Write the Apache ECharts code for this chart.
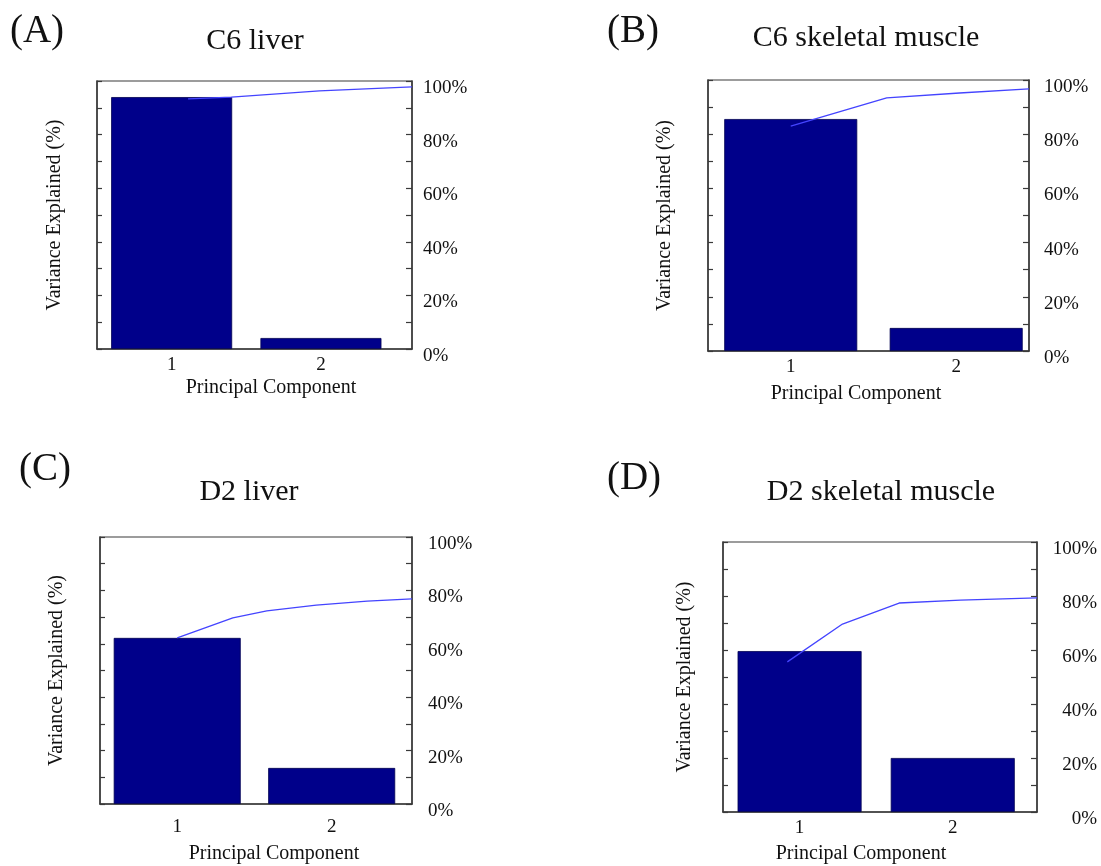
<!DOCTYPE html>
<html><head><meta charset="utf-8">
<script src="https://cdn.jsdelivr.net/npm/echarts@6/dist/echarts.min.js"></script>
<style>html,body{margin:0;padding:0;background:#fff}#c{width:1101px;height:866px}</style>
</head><body><div id="c"></div>
<script>
// ---- data ----
const components = [1, 2];
const panelLetters = ['(A)', '(B)', '(C)', '(D)'];
const panelTitles = ['C6 liver', 'C6 skeletal muscle', 'D2 liver', 'D2 skeletal muscle'];
const xAxisName = 'Principal Component';
const yAxisName = 'Variance Explained (%)';

const varianceA = [94.0, 4.1];
const varianceB = [85.6, 8.5];
const varianceC = [62.2, 13.5];
const varianceD = [59.6, 20.0];

// cumulative (pareto) line, x in component units as drawn in the reference
const cumXA = [1.11, 1.40, 1.99, 2.61];
const cumYA = [93.3, 94.0, 96.3, 97.8];
const cumXB = [1.00, 1.58, 2.02, 2.44];
const cumYB = [83.0, 93.4, 95.2, 96.7];
const cumXC = [1.00, 1.36, 1.58, 1.90, 2.23, 2.52];
const cumYC = [62.2, 69.7, 72.3, 74.5, 76.0, 76.8];
const cumXD = [0.92, 1.28, 1.65, 2.05, 2.55];
const cumYD = [55.6, 69.6, 77.4, 78.5, 79.3];

const percentLabelStep = 20;

// ---- layout / style ----
const FONT = 'Liberation Serif';
const panels = [
  {vals: varianceA, cx: cumXA, cy: cumYA, grid: {left: 97, top: 81, width: 315, height: 268}, xmax: 2.61, barW: 121,
   labMargin: 7, nameGap: 29, namePad: [0, 0, 0, 33], rAlign: 'left', rMargin: 11, yNameGap: 32,
   title: [255, 41], letter: [37, 32]},
  {vals: varianceB, cx: cumXB, cy: cumYB, grid: {left: 708, top: 80, width: 321, height: 271}, xmax: 2.44, barW: 133,
   labMargin: 7, nameGap: 33, namePad: [0, 25, 0, 0], rAlign: 'left', rMargin: 15, yNameGap: 33,
   title: [866, 38], letter: [633, 32]},
  {vals: varianceC, cx: cumXC, cy: cumYC, grid: {left: 100, top: 537, width: 312, height: 267}, xmax: 2.52, barW: 127,
   labMargin: 14, nameGap: 40, namePad: [0, 0, 0, 36], rAlign: 'left', rMargin: 16, yNameGap: 33,
   title: [249, 492], letter: [45, 470]},
  {vals: varianceD, cx: cumXD, cy: cumYD, grid: {left: 723, top: 542, width: 314, height: 270}, xmax: 2.55, barW: 124,
   labMargin: 7, nameGap: 32, namePad: [0, 38, 0, 0], rAlign: 'right', rMargin: 60, yNameGap: 28,
   title: [881, 492], letter: [634, 479]}
];

const grids = [], xAxes = [], yAxes = [], series = [], graphics = [];
const axisLineStyle = {color: '#3a3a3a', width: 1.5};
panels.forEach((p, i) => {
  grids.push(Object.assign({show: true, borderColor: '#3a3a3a', borderWidth: 1.2, backgroundColor: '#fff'}, p.grid));
  xAxes.push({
    type: 'value', gridIndex: i, min: 0.5, max: p.xmax, interval: 0.5,
    axisLine: {lineStyle: axisLineStyle}, axisTick: {show: false}, splitLine: {show: false},
    axisLabel: {margin: p.labMargin, color: '#111', fontFamily: FONT, fontSize: 19,
      formatter: v => (Number.isInteger(v) && components.indexOf(v) >= 0) ? String(v) : ''},
    name: xAxisName, nameLocation: 'middle', nameGap: p.nameGap,
    nameTextStyle: {fontFamily: FONT, fontSize: 20, color: '#111', padding: p.namePad}
  });
  yAxes.push({
    type: 'value', gridIndex: i, min: 0, max: 100, interval: 10, position: 'left',
    axisLine: {show: true, lineStyle: axisLineStyle},
    axisTick: {show: true, inside: true, length: 5, lineStyle: {color: '#3a3a3a', width: 1.2}},
    axisLabel: {show: false}, splitLine: {show: false},
    name: yAxisName, nameLocation: 'middle', nameRotate: 90, nameGap: p.yNameGap,
    nameTextStyle: {fontFamily: FONT, fontSize: 20, color: '#111'}
  });
  yAxes.push({
    type: 'value', gridIndex: i, min: 0, max: 100, interval: 10, position: 'right',
    axisLine: {show: true, lineStyle: axisLineStyle},
    axisTick: {show: true, inside: true, length: 6, lineStyle: {color: '#3a3a3a', width: 1.2}},
    splitLine: {show: false},
    axisLabel: {margin: p.rMargin, align: p.rAlign, verticalAlign: 'top', lineHeight: 14,
      color: '#111', fontFamily: FONT, fontSize: 19,
      formatter: v => (v % percentLabelStep === 0) ? v + '%' : ''}
  });
  series.push({
    type: 'bar', xAxisIndex: i, yAxisIndex: 2 * i, barWidth: p.barW,
    itemStyle: {color: '#00008a', borderColor: '#000050', borderWidth: 0.8},
    data: components.map((c, k) => [c, p.vals[k]]), z: 2
  });
  series.push({
    type: 'line', xAxisIndex: i, yAxisIndex: 2 * i, symbol: 'none', silent: true,
    lineStyle: {color: '#4444ff', width: 1.3},
    data: p.cx.map((x, k) => [x, p.cy[k]]), z: 3
  });
  graphics.push({type: 'text', x: p.title[0], y: p.title[1],
    style: {text: panelTitles[i], font: '30px "' + FONT + '"', fill: '#111', align: 'center', verticalAlign: 'middle'}});
  graphics.push({type: 'text', x: p.letter[0], y: p.letter[1],
    style: {text: panelLetters[i], font: '39px "' + FONT + '"', fill: '#111', align: 'center', verticalAlign: 'middle'}});
});

const chart = echarts.init(document.getElementById('c'), null, {renderer: 'canvas'});
chart.setOption({
  animation: false,
  backgroundColor: '#fff',
  grid: grids, xAxis: xAxes, yAxis: yAxes, series: series, graphic: graphics
});
</script></body></html>
